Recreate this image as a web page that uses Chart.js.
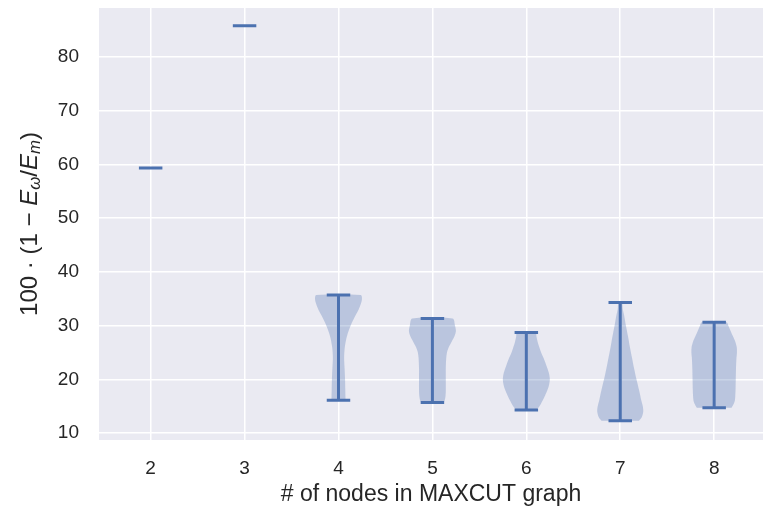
<!DOCTYPE html>
<html>
<head>
<meta charset="utf-8">
<script src="https://cdn.jsdelivr.net/npm/chart.js@4"></script>
<style>
    html, body { margin: 0; padding: 0; background: #ffffff; }
    #wrap { width: 763px; height: 508px; }
</style>
</head>
<body>
<div id="wrap"><canvas id="violinChart" width="763" height="508"></canvas></div>
<script>
// number of nodes on the x axis
const nodes = [2, 3, 4, 5, 6, 7, 8];
const yTicks = [10, 20, 30, 40, 50, 60, 70, 80];

// min / max of each distribution (caps)
const mins = [59.3, 85.8, 16.1, 15.7, 14.3, 12.3, 14.7];
const maxs = [59.3, 85.8, 35.7, 31.3, 28.7, 34.3, 30.6];

// relative density (0..1) at given levels
const levels4 = [16.1, 18, 20, 22, 24, 26, 28, 30, 32, 33, 34, 35, 35.7];
const dens4 = [0.30, 0.29, 0.28, 0.26, 0.24, 0.27, 0.36, 0.52, 0.74, 0.86, 0.95, 1.0, 0.95];
const levels5 = [15.7, 16, 17, 18, 20, 22, 24, 25, 26, 27, 28, 29, 30, 31.3];
const dens5 = [0.47, 0.52, 0.56, 0.57, 0.57, 0.57, 0.59, 0.62, 0.7, 0.82, 0.94, 1.0, 0.96, 0.86];
const levels6 = [14.3, 15, 16, 17, 18, 19, 20, 21, 22, 23, 24, 25, 26, 27, 28, 28.7];
const dens6 = [0.42, 0.56, 0.69, 0.8, 0.9, 0.97, 1.0, 0.97, 0.9, 0.82, 0.73, 0.63, 0.55, 0.48, 0.43, 0.4];
const levels7 = [12.3, 13, 14, 15, 16, 18, 20, 22, 24, 26, 28, 30, 32, 33, 34.3];
const dens7 = [0.8, 0.92, 0.98, 0.96, 0.9, 0.8, 0.69, 0.59, 0.5, 0.41, 0.33, 0.24, 0.16, 0.11, 0.07];
const levels8 = [14.7, 15.5, 16, 17, 18, 20, 22, 24, 25, 26, 27, 28, 29, 30, 30.6];
const dens8 = [0.74, 0.84, 0.88, 0.9, 0.91, 0.92, 0.93, 0.95, 0.97, 0.96, 0.9, 0.8, 0.7, 0.6, 0.53];

const levels = [[], [], levels4, levels5, levels6, levels7, levels8];
const densities = [[], [], dens4, dens5, dens6, dens7, dens8];

document.addEventListener("DOMContentLoaded", function() {
    const blue = '#4c72b0';
    const halfWidth = 0.25;   // violin width 0.5
    const capHalf = 0.125;
    const fam = '"Liberation Sans", Arial, sans-serif';

    const datasets = [];

    // violin bodies
    nodes.forEach((p, i) => {
        const lv = levels[i], dv = densities[i];
        if (!lv.length) return;
        const pts = [];
        for (let k = 0; k < lv.length; k++) pts.push({x: p + dv[k] * halfWidth, y: lv[k]});
        for (let k = lv.length - 1; k >= 0; k--) pts.push({x: p - dv[k] * halfWidth, y: lv[k]});
        datasets.push({
            data: pts,
            showLine: true,
            fill: 'shape',
            backgroundColor: 'rgba(76, 114, 176, 0.3)',
            borderWidth: 0,
            borderColor: 'rgba(0,0,0,0)',
            pointRadius: 0,
            tension: 0.3
        });
    });

    // bars and caps
    const gap = {x: NaN, y: NaN};
    const bars = [];
    nodes.forEach((p, i) => {
        bars.push({x: p - capHalf, y: maxs[i]}, {x: p + capHalf, y: maxs[i]}, gap);
        bars.push({x: p - capHalf, y: mins[i]}, {x: p + capHalf, y: mins[i]}, gap);
        if (maxs[i] !== mins[i]) bars.push({x: p, y: mins[i]}, {x: p, y: maxs[i]}, gap);
    });
    datasets.push({
        data: bars,
        showLine: true,
        spanGaps: false,
        fill: false,
        borderColor: blue,
        borderWidth: 3,
        pointRadius: 0,
        tension: 0
    });

    const areaBackground = {
        id: 'areaBackground',
        beforeDraw(chart) {
            const {ctx, chartArea: a} = chart;
            ctx.save();
            ctx.fillStyle = '#eaeaf2';
            ctx.fillRect(a.left, a.top, a.right - a.left, a.bottom - a.top);
            ctx.restore();
        }
    };

    // y axis label with sub/italic parts
    const yLabel = {
        id: 'yLabel',
        afterDraw(chart) {
            const {ctx, chartArea: a} = chart;
            const size = 24;
            const parts = [
                {t: '100 \u00b7 (1 \u2212 ', f: `${size}px ${fam}`, dy: 0},
                {t: 'E', f: `italic ${size}px ${fam}`, dy: 0},
                {t: '\u03c9', f: `italic ${size * 0.7}px ${fam}`, dy: 5},
                {t: '/', f: `${size}px ${fam}`, dy: 0},
                {t: 'E', f: `italic ${size}px ${fam}`, dy: 0},
                {t: 'm', f: `italic ${size * 0.7}px ${fam}`, dy: 5},
                {t: ')', f: `${size}px ${fam}`, dy: 0}
            ];
            ctx.save();
            let total = 0;
            parts.forEach(pt => { ctx.font = pt.f; pt.w = ctx.measureText(pt.t).width; total += pt.w; });
            ctx.translate(30, (a.top + a.bottom) / 2);
            ctx.rotate(-Math.PI / 2);
            ctx.fillStyle = '#262626';
            ctx.textBaseline = 'middle';
            let x = -total / 2;
            parts.forEach(pt => {
                ctx.font = pt.f;
                ctx.fillText(pt.t, x, pt.dy);
                x += pt.w;
            });
            ctx.restore();
        }
    };

    const noPad = s => { s.paddingTop = 0; s.paddingBottom = 0; s.paddingLeft = 0; s.paddingRight = 0; };

    const ctxViolin = document.getElementById('violinChart').getContext('2d');
    const violinChart = new Chart(ctxViolin, {
        type: 'scatter',
        data: { datasets: datasets },
        options: {
            responsive: false,
            animation: false,
            layout: { padding: { top: 8, right: 0, left: 0, bottom: 0 } },
            plugins: {
                legend: { display: false },
                tooltip: { enabled: false }
            },
            scales: {
                x: {
                    type: 'linear',
                    min: 1.45,
                    max: 8.52,
                    afterBuildTicks: s => { s.ticks = nodes.map(v => ({value: v})); },
                    afterFit: s => { s.height = 68; noPad(s); },
                    grid: { color: '#ffffff', lineWidth: 1.5, drawTicks: false },
                    border: { display: false },
                    ticks: {
                        padding: 17,
                        color: '#262626',
                        font: { family: fam, size: 19 }
                    },
                    title: {
                        display: true,
                        text: '# of nodes in MAXCUT graph',
                        color: '#262626',
                        padding: { top: 0, bottom: 0 },
                        font: { family: fam, size: 23 }
                    }
                },
                y: {
                    type: 'linear',
                    min: 8.7,
                    max: 89.1,
                    afterBuildTicks: s => { s.ticks = yTicks.map(v => ({value: v})); },
                    afterFit: s => { s.width = 99; noPad(s); },
                    grid: { color: '#ffffff', lineWidth: 1.5, drawTicks: false },
                    border: { display: false },
                    ticks: {
                        padding: 20,
                        color: '#262626',
                        font: { family: fam, size: 19 }
                    }
                }
            }
        },
        plugins: [areaBackground, yLabel]
    });
});
</script>
</body>
</html>
